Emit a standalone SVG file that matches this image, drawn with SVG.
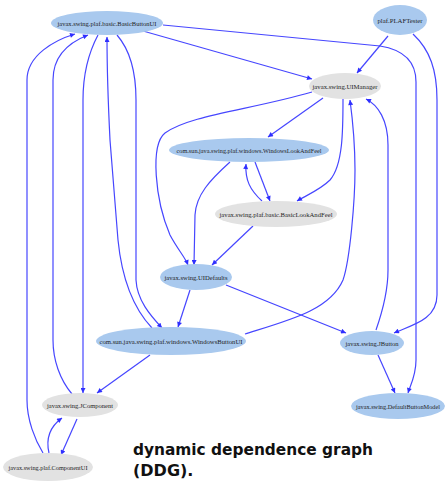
<svg xmlns="http://www.w3.org/2000/svg" width="448" height="483" viewBox="0 0 448 483">
<defs>
<marker id="a" viewBox="0 0 10 10" refX="10" refY="5" markerWidth="7" markerHeight="5" orient="auto" markerUnits="userSpaceOnUse"><path d="M0,0 L10,5 L0,10 z" fill="#2f2fff"/></marker>
<style>
.e{fill:none;stroke:#4646ff;stroke-width:1.2;marker-end:url(#a)}
.b{fill:#a9c9ee}
.g{fill:#e2e2e2}
.t{font-family:"Liberation Serif",serif;font-size:7px;fill:#1e1e1e;text-anchor:middle}
.h{font-family:"DejaVu Sans",sans-serif;font-size:16px;font-weight:bold;fill:#111}
</style>
</defs>
<rect width="448" height="483" fill="#fff"/>
<g id="edges">
<path class="e" d="M143,31 L312,79"/>
<path class="e" d="M163,25 L380,46 C405,50 416,62 416,82 L416,360 C416,376 410,386 408,393"/>
<path class="e" d="M388,36 L357,73"/>
<path class="e" d="M413,34 C430,50 437,70 437,100 L437,295 C437,320 412,325 394,333"/>
<path class="e" d="M323,98 L268,137"/>
<path class="e" d="M312,92 C250,110 190,115 165,133 C150,145 155,200 170,235 C178,250 185,257 188,265"/>
<path class="e" d="M230,162 C210,180 196,195 195,215 L194,265"/>
<path class="e" d="M255,162 L270,201"/>
<path class="e" d="M262,201 C250,190 245,180 246,164"/>
<path class="e" d="M343,99 C343,130 343,165 330,180 C320,190 305,196 297,201"/>
<path class="e" d="M245,334 C290,320 330,310 343,280 C350,260 355,200 355,170 C355,140 352,115 350,100"/>
<path class="e" d="M376,330 C383,310 388,290 388,270 L388,145 C388,120 378,105 366,99"/>
<path class="e" d="M253,226 L212,265"/>
<path class="e" d="M190,290 L178,327"/>
<path class="e" d="M226,285 L346,333"/>
<path class="e" d="M378,355 L395,393"/>
<path class="e" d="M152,328 C135,310 122,280 118,240 L110,140 C108,100 107,60 107,37"/>
<path class="e" d="M117,35 C130,50 136,70 136,100 L136,280 C137,300 150,315 162,328"/>
<path class="e" d="M98,35 C90,50 83,70 83,100 L83,393"/>
<path class="e" d="M72,394 C60,380 53,360 53,340 L53,80 C53,55 70,42 88,35"/>
<path class="e" d="M43,453 C35,440 27,420 27,400 L27,80 C27,55 55,40 75,34"/>
<path class="e" d="M49,453 C46,440 48,428 62,418"/>
<path class="e" d="M77,419 L61,455"/>
<path class="e" d="M150,355 L97,393"/>
</g>
<g id="n1"><ellipse class="b" cx="107" cy="23" rx="56" ry="12"/><text class="t" x="107" y="25.5" textLength="99" lengthAdjust="spacingAndGlyphs">javax.swing.plaf.basic.BasicButtonUI</text></g>
<g id="n2"><ellipse class="b" cx="400" cy="20" rx="27" ry="15"/><text class="t" x="400" y="22.5" textLength="45" lengthAdjust="spacingAndGlyphs">plaf.PLAFTester</text></g>
<g id="n3"><ellipse class="g" cx="345" cy="86" rx="36" ry="13"/><text class="t" x="345" y="88.5" textLength="65" lengthAdjust="spacingAndGlyphs">javax.swing.UIManager</text></g>
<g id="n4"><ellipse class="b" cx="249" cy="150" rx="80" ry="12"/><text class="t" x="249" y="152.5" textLength="145" lengthAdjust="spacingAndGlyphs">com.sun.java.swing.plaf.windows.WindowsLookAndFeel</text></g>
<g id="n5"><ellipse class="g" cx="276" cy="214" rx="61" ry="13"/><text class="t" x="276" y="216.5" textLength="113" lengthAdjust="spacingAndGlyphs">javax.swing.plaf.basic.BasicLookAndFeel</text></g>
<g id="n6"><ellipse class="b" cx="196" cy="277" rx="36" ry="13"/><text class="t" x="196" y="279.5" textLength="63" lengthAdjust="spacingAndGlyphs">javax.swing.UIDefaults</text></g>
<g id="n7"><ellipse class="b" cx="171" cy="341" rx="75" ry="14"/><text class="t" x="171" y="343.5" textLength="143" lengthAdjust="spacingAndGlyphs">com.sun.java.swing.plaf.windows.WindowsButtonUI</text></g>
<g id="n8"><ellipse class="b" cx="372" cy="343" rx="32" ry="12"/><text class="t" x="372" y="345.5" textLength="53" lengthAdjust="spacingAndGlyphs">javax.swing.JButton</text></g>
<g id="n9"><ellipse class="g" cx="80" cy="405" rx="38" ry="12"/><text class="t" x="80" y="407.5" textLength="66" lengthAdjust="spacingAndGlyphs">javax.swing.JComponent</text></g>
<g id="n10"><ellipse class="g" cx="48" cy="467" rx="45" ry="14"/><text class="t" x="48" y="469.5" textLength="79" lengthAdjust="spacingAndGlyphs">javax.swing.plaf.ComponentUI</text></g>
<g id="n11"><ellipse class="b" cx="398" cy="406" rx="47" ry="13"/><text class="t" x="398" y="408.5" textLength="84" lengthAdjust="spacingAndGlyphs">javax.swing.DefaultButtonModel</text></g>
<text class="h" x="133" y="455" textLength="240" lengthAdjust="spacingAndGlyphs">dynamic dependence graph</text>
<text class="h" x="133" y="476">(DDG).</text>
</svg>
